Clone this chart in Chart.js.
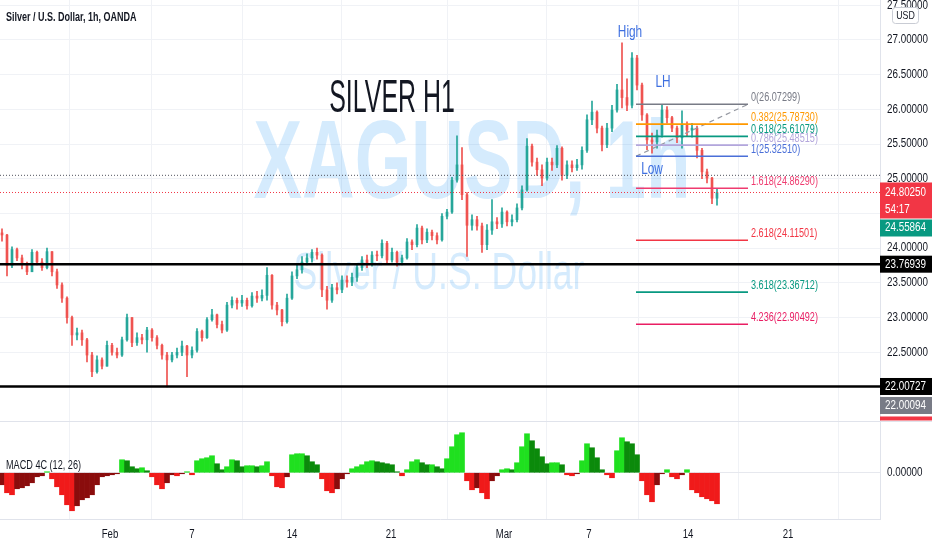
<!DOCTYPE html>
<html>
<head>
<meta charset="utf-8">
<script src="https://cdn.jsdelivr.net/npm/chart.js@4.4.1/dist/chart.umd.min.js"></script>
<style>
  html, body { margin: 0; padding: 0; background: #fff; }
  #wrap { position: relative; width: 932px; height: 550px; overflow: hidden; }
  canvas { position: absolute; left: 0; }
  #price { top: 0; }
  #macd { top: 421px; }
</style>
</head>
<body>
<div id="wrap">
  <canvas id="price" width="932" height="421"></canvas>
  <canvas id="macd" width="932" height="129"></canvas>
</div>
<script>
// XAGUSD 1h, one candle per ~5px of the screenshot
const firstOpen = 24.22;
const closes = [
  24.19, 23.75, 23.98, 23.86, 23.76, 23.66, 23.94, 23.80, 23.72, 23.95,
  23.66, 23.47, 23.28, 23.00, 22.75, 22.78, 22.68, 22.46, 22.22, 22.39,
  22.30, 22.60, 22.50, 22.46, 22.68, 23.00, 22.64, 22.71, 22.68, 22.82,
  22.71, 22.60, 22.46, 22.39, 22.46, 22.50, 22.59, 22.46, 22.53, 22.80,
  22.71, 22.97, 23.04, 22.90, 22.82, 23.18, 23.25, 23.21, 23.25, 23.17,
  23.31, 23.28, 23.32, 23.61, 23.18, 23.11, 22.94, 23.28, 23.60, 23.69,
  23.80, 23.86, 23.94, 23.90, 23.40, 23.25, 23.43, 23.40, 23.54, 23.51,
  23.58, 23.72, 23.83, 23.77, 23.90, 23.89, 24.07, 23.83, 23.94, 23.80,
  23.86, 24.09, 24.05, 24.29, 24.12, 24.23, 24.18, 24.12, 24.46, 24.52,
  24.98, 25.20, 24.77, 24.33, 24.41, 24.32, 24.05, 24.26, 24.38, 24.35,
  24.52, 24.38, 24.41, 24.58, 24.84, 25.47, 25.24, 25.13, 25.01, 25.24,
  25.20, 25.44, 25.05, 25.20, 25.16, 25.20, 25.41, 25.85, 25.96, 25.73,
  25.49, 25.73, 25.99, 26.28, 26.17, 26.06, 26.74, 26.35, 25.92, 25.56,
  25.53, 25.63, 25.99, 25.88, 25.73, 25.59, 25.77, 25.70, 25.73, 25.41,
  25.10, 25.01, 24.72, 24.80
];
const highs = [
  24.28, 24.20, 24.02, 24.00, 23.90, 23.80, 23.98, 23.96, 23.85, 24.00,
  23.95, 23.70, 23.50, 23.30, 23.02, 22.85, 22.82, 22.70, 22.50, 22.45,
  22.42, 22.66, 22.63, 22.56, 22.72, 23.05, 23.00, 22.78, 22.76, 22.86,
  22.84, 22.74, 22.62, 22.50, 22.50, 22.56, 22.66, 22.60, 22.58, 22.84,
  22.82, 23.00, 23.12, 23.05, 22.95, 23.22, 23.30, 23.28, 23.32, 23.28,
  23.36, 23.38, 23.40, 23.72, 23.62, 23.22, 23.12, 23.34, 23.66, 23.76,
  23.88, 23.92, 23.98, 24.00, 23.92, 23.45, 23.48, 23.50, 23.60, 23.60,
  23.64, 23.78, 23.88, 23.90, 23.95, 23.96, 24.12, 24.10, 24.00, 23.96,
  23.90, 24.14, 24.12, 24.34, 24.32, 24.28, 24.26, 24.22, 24.50, 24.56,
  25.02, 25.62, 25.45, 24.80, 24.48, 24.46, 24.36, 24.34, 24.70, 24.44,
  24.58, 24.54, 24.48, 24.64, 24.90, 25.58, 25.50, 25.30, 25.20, 25.30,
  25.30, 25.48, 25.46, 25.26, 25.26, 25.28, 25.46, 25.92, 26.12, 25.98,
  25.76, 25.80, 26.06, 26.36, 26.96, 26.44, 26.82, 26.78, 26.38, 25.94,
  25.66, 25.70, 26.06, 26.04, 25.90, 25.76, 25.98, 25.82, 25.80, 25.76,
  25.44, 25.14, 25.02, 24.86
];
const lows = [
  24.10, 23.60, 23.72, 23.82, 23.70, 23.62, 23.66, 23.76, 23.68, 23.70,
  23.60, 23.42, 23.22, 22.92, 22.60, 22.68, 22.60, 22.36, 22.15, 22.20,
  22.26, 22.30, 22.46, 22.42, 22.44, 22.66, 22.58, 22.60, 22.62, 22.50,
  22.66, 22.55, 22.40, 22.00, 22.36, 22.42, 22.45, 22.15, 22.42, 22.50,
  22.66, 22.70, 22.95, 22.85, 22.78, 22.80, 23.14, 23.12, 23.16, 23.12,
  23.15, 23.22, 23.24, 23.25, 23.12, 23.04, 22.88, 22.92, 23.26, 23.56,
  23.64, 23.76, 23.80, 23.84, 23.30, 23.12, 23.22, 23.34, 23.36, 23.44,
  23.46, 23.52, 23.68, 23.72, 23.74, 23.82, 23.86, 23.78, 23.80, 23.74,
  23.76, 23.84, 23.98, 24.02, 24.06, 24.08, 24.12, 24.06, 24.10, 24.42,
  24.50, 24.95, 24.70, 23.88, 24.26, 24.26, 23.94, 23.98, 24.20, 24.28,
  24.30, 24.32, 24.32, 24.38, 24.55, 24.82, 25.18, 25.05, 24.90, 24.98,
  25.12, 25.16, 24.98, 25.00, 25.10, 25.12, 25.14, 25.38, 25.78, 25.66,
  25.40, 25.45, 25.68, 25.96, 26.02, 25.98, 26.02, 26.28, 25.84, 25.42,
  25.37, 25.44, 25.60, 25.80, 25.68, 25.52, 25.44, 25.62, 25.60, 25.30,
  25.00, 24.94, 24.64, 24.62
];
// MACD 4C (12, 26) histogram
const macdHist = [
  -0.048, -0.080, -0.088, -0.064, -0.060, -0.052, -0.040, -0.016, -0.012, 0.004,
  -0.024, -0.056, -0.088, -0.128, -0.152, -0.132, -0.108, -0.100, -0.088, -0.048,
  -0.016, -0.012, -0.008, -0.004, 0.052, 0.048, 0.024, 0.016, 0.020, 0.008,
  -0.016, -0.048, -0.064, -0.040, -0.008, -0.012, -0.004, 0.004, -0.008, 0.048,
  0.056, 0.060, 0.068, 0.036, 0.012, 0.024, 0.052, 0.048, 0.024, 0.028,
  0.028, 0.024, 0.028, 0.044, -0.012, -0.056, -0.060, -0.016, 0.072, 0.076,
  0.076, 0.068, 0.044, 0.032, -0.024, -0.072, -0.080, -0.064, -0.024, -0.004,
  0.016, 0.024, 0.032, 0.044, 0.048, 0.044, 0.040, 0.036, 0.032, 0.004,
  -0.012, 0.012, 0.044, 0.052, 0.040, 0.032, 0.032, 0.024, 0.016, 0.056,
  0.104, 0.152, 0.160, -0.032, -0.068, -0.060, -0.080, -0.104, -0.032, -0.012,
  0.012, 0.016, 0.012, 0.040, 0.104, 0.156, 0.128, 0.096, 0.064, 0.036,
  0.040, 0.040, 0.032, -0.008, -0.012, -0.004, 0.048, 0.116, 0.100, 0.060,
  0.012, -0.008, -0.020, 0.088, 0.140, 0.124, 0.116, 0.072, -0.032, -0.088,
  -0.116, -0.048, -0.004, 0.012, -0.016, -0.024, -0.008, 0.012, -0.068, -0.080,
  -0.096, -0.104, -0.112, -0.124
];

// time axis (bar index) and price ticks
const dateTicks = [21.6, 38, 58, 77.8, 100.4, 117.4, 137.2, 157.2];
const dateLabels = ['Feb', '7', '14', '21', 'Mar', '7', '14', '21'];
const priceTicks = [22, 22.5, 23, 23.5, 24, 24.5, 25, 25.5, 26, 26.5, 27, 27.5];

// fib extension drawn on the chart
const fibLevels = ['0', '0.382', '0.618', '0.786', '1', '1.618', '2.618', '3.618', '4.236'];
const fibPrices = [26.07299, 25.78730, 25.61079, 25.48515, 25.32510, 24.86290, 24.11501, 23.36712, 22.90492];
const fibStart = 126.8, fibEnd = 149.2;

// horizontal levels and axis values
const levelPrices = [23.76939, 22.00727];
const lastPrice = 24.80250;
const prevClose = 25.05;
const otherValues = [24.55864, 22.00094];

const fibColors = ['#787b86', '#ff9800', '#089981', '#b3a6dc', '#4a6fd8', '#ef3b6f', '#f23645', '#089981', '#e91e63'];
const upColor = '#26a69a', downColor = '#ef5350';
const gridColor = '#f0f2f6';
const axisLine = '#e0e3eb';
const xMin = -0.4, xMax = 175.6;

const opens = closes.map((c, i) => (i === 0 ? firstOpen : closes[i - 1]));
const candleColors = closes.map((c, i) => (c >= opens[i] ? upColor : downColor));

function txt(ctx, s, x, y, size, color, opt) {
  opt = opt || {};
  ctx.save();
  ctx.font = (opt.weight || 'normal') + ' ' + size + 'px "Liberation Sans", Arial, sans-serif';
  ctx.fillStyle = color;
  ctx.textBaseline = opt.baseline || 'middle';
  ctx.textAlign = opt.align || 'left';
  ctx.translate(x, y);
  ctx.scale(opt.sx || 0.78, 1);
  ctx.fillText(s, 0, 0);
  ctx.restore();
}

function hline(price, color, width, dash) {
  return {
    type: 'line',
    data: [{ x: xMin, y: price }, { x: xMax, y: price }],
    borderColor: color,
    borderWidth: width,
    borderDash: dash || [],
    pointRadius: 0,
    fill: false
  };
}

const datasets = [];
fibPrices.forEach((p, k) => {
  datasets.push({
    type: 'line',
    data: [{ x: fibStart, y: p }, { x: fibEnd, y: p }],
    borderColor: fibColors[k],
    borderWidth: 1.6,
    pointRadius: 0
  });
});
datasets.push({
  type: 'line',
  data: [{ x: fibStart, y: fibPrices[4] }, { x: fibEnd, y: fibPrices[0] }],
  borderColor: '#9598a1',
  borderWidth: 1.2,
  borderDash: [5, 4],
  pointRadius: 0
});
levelPrices.forEach(p => datasets.push(hline(p, '#000000', 2.6)));
datasets.push(hline(lastPrice, '#f23645', 1, [1, 2]));
datasets.push(hline(prevClose, '#50535e', 1, [1, 2]));
datasets.push({
  type: 'bar',
  data: closes.map((c, i) => ({ x: i, y: [opens[i], c] })),
  backgroundColor: candleColors,
  barThickness: 2,
  minBarLength: 1,
  grouped: false
});
datasets.push({
  type: 'bar',
  data: closes.map((c, i) => ({ x: i, y: [lows[i], highs[i]] })),
  backgroundColor: candleColors,
  barThickness: 1,
  grouped: false
});

const notes = [
  { text: 'High', x: 125.6, y: 27.11 },
  { text: 'LH', x: 132.2, y: 26.39 },
  { text: 'Low', x: 130, y: 25.13 }
];

function box(ctx, x, y, w, h, fill) {
  ctx.fillStyle = fill;
  ctx.fillRect(x, y, w, h);
}

const priceOverlay = {
  id: 'priceOverlay',
  beforeDatasetsDraw(chart) {
    const ctx = chart.ctx;
    txt(ctx, 'XAGUSD, 1h', 472, 198, 112, 'rgba(33,150,243,0.19)', { weight: 'bold', align: 'center', baseline: 'alphabetic', sx: 0.65 });
    txt(ctx, 'Silver / U.S. Dollar', 439, 289, 52, 'rgba(33,150,243,0.19)', { align: 'center', baseline: 'alphabetic', sx: 0.685 });
  },
  afterDraw(chart) {
    const ctx = chart.ctx;
    const xs = chart.scales.x, ys = chart.scales.y;
    const right = chart.chartArea.right;

    txt(ctx, 'Silver / U.S. Dollar, 1h, OANDA', 6, 18, 12, '#131722', { weight: '600', sx: 0.75 });
    txt(ctx, 'SILVER H1', 392, 112, 47, '#131722', { align: 'center', baseline: 'alphabetic', sx: 0.53 });

    notes.forEach(n => {
      txt(ctx, n.text, xs.getPixelForValue(n.x), ys.getPixelForValue(n.y), 16, '#3d6fe0', { align: 'center', sx: 0.74 });
    });

    const fx = xs.getPixelForValue(fibEnd) + 3;
    fibPrices.forEach((p, k) => {
      txt(ctx, fibLevels[k] + '(' + p.toFixed(5) + ')', fx, ys.getPixelForValue(p) - 3, 12, fibColors[k], { baseline: 'alphabetic', sx: 0.76 });
    });

    // price scale labels
    ys.ticks.forEach(t => {
      txt(ctx, t.value.toFixed(5), right + 7, ys.getPixelForValue(t.value), 12, '#131722', { sx: 0.82 });
    });

    const yl = ys.getPixelForValue(lastPrice);
    box(ctx, right, yl - 10, 52, 36, '#f23645');
    txt(ctx, lastPrice.toFixed(5), right + 5, yl, 12, '#ffffff', { sx: 0.82 });
    txt(ctx, '54:17', right + 5, yl + 17, 12, '#ffffff', { sx: 0.82 });
    box(ctx, right, yl + 27, 52, 17, '#089981');
    txt(ctx, otherValues[0].toFixed(5), right + 5, yl + 35.5, 12, '#ffffff', { sx: 0.82 });

    levelPrices.forEach(p => {
      const y = ys.getPixelForValue(p);
      box(ctx, right, y - 8.5, 52, 17, '#000000');
      txt(ctx, p.toFixed(5), right + 5, y, 12, '#ffffff', { sx: 0.82 });
    });
    const y2 = ys.getPixelForValue(levelPrices[1]) + 19;
    box(ctx, right, y2 - 8.5, 52, 17, '#787b86');
    txt(ctx, otherValues[1].toFixed(5), right + 5, y2, 12, '#ffffff', { sx: 0.82 });
    box(ctx, right, y2 + 11, 52, 4, '#f23645');

    // currency badge
    ctx.save();
    ctx.fillStyle = '#ffffff';
    ctx.strokeStyle = '#c9ccd4';
    ctx.lineWidth = 1;
    ctx.beginPath();
    ctx.roundRect(892.5, 7.5, 26, 16, 3);
    ctx.fill();
    ctx.stroke();
    ctx.restore();
    txt(ctx, 'USD', 905.5, 15.5, 11, '#131722', { align: 'center', sx: 0.8 });
  }
};

new Chart(document.getElementById('price'), {
  type: 'bar',
  data: { datasets: datasets },
  options: {
    responsive: false,
    animation: false,
    devicePixelRatio: 1,
    layout: { padding: 0 },
    plugins: { legend: { display: false }, tooltip: { enabled: false } },
    scales: {
      x: {
        type: 'linear',
        min: xMin,
        max: xMax,
        offset: false,
        afterBuildTicks: s => { s.ticks = dateTicks.map(v => ({ value: v })); },
        afterFit: s => { s.height = 0; },
        ticks: { display: false },
        grid: { color: gridColor, drawTicks: false },
        border: { display: false }
      },
      y: {
        position: 'right',
        min: 21.51,
        max: 27.576,
        afterBuildTicks: s => { s.ticks = priceTicks.map(v => ({ value: v })); },
        afterFit: s => { s.width = 52; },
        ticks: { display: false },
        grid: { color: gridColor, drawTicks: false },
        border: { color: axisLine }
      }
    }
  },
  plugins: [priceOverlay]
});

const lime = '#1fe01f', green = '#0b8a0b', red = '#f01a1a', maroon = '#8a0c0c';

const macdOverlay = {
  id: 'macdOverlay',
  afterDraw(chart) {
    const ctx = chart.ctx;
    const xs = chart.scales.x, ys = chart.scales.y;
    ctx.save();
    ctx.strokeStyle = axisLine;
    ctx.lineWidth = 1;
    ctx.beginPath();
    ctx.moveTo(0, 0.5);
    ctx.lineTo(932, 0.5);
    ctx.stroke();
    ctx.restore();
    txt(ctx, 'MACD 4C (12, 26)', 6, 45, 12, '#131722', { sx: 0.76 });
    txt(ctx, '0.00000', chart.chartArea.right + 7, ys.getPixelForValue(0), 12, '#131722', { sx: 0.82 });
    dateTicks.forEach((v, k) => {
      txt(ctx, dateLabels[k], xs.getPixelForValue(v), 114, 12, '#131722', { align: 'center', sx: 0.8 });
    });
  }
};

new Chart(document.getElementById('macd'), {
  type: 'bar',
  data: {
    datasets: [{
      data: macdHist.map((v, i) => ({ x: i, y: v })),
      backgroundColor: c => {
        const i = c.dataIndex;
        const v = macdHist[i];
        const p = i > 0 ? macdHist[i - 1] : v;
        if (v >= 0) return v >= p ? lime : green;
        return v < p ? red : maroon;
      },
      barThickness: 5,
      grouped: false
    }]
  },
  options: {
    responsive: false,
    animation: false,
    devicePixelRatio: 1,
    layout: { padding: 0 },
    plugins: { legend: { display: false }, tooltip: { enabled: false } },
    scales: {
      x: {
        type: 'linear',
        min: xMin,
        max: xMax,
        offset: false,
        afterBuildTicks: s => { s.ticks = dateTicks.map(v => ({ value: v })); },
        afterFit: s => { s.height = 31; },
        ticks: { display: false },
        grid: { color: gridColor, drawTicks: false },
        border: { color: axisLine }
      },
      y: {
        position: 'right',
        min: -0.185,
        max: 0.207,
        afterBuildTicks: s => { s.ticks = [{ value: 0 }]; },
        afterFit: s => { s.width = 52; },
        ticks: { display: false },
        grid: { color: '#e6e8ee', drawTicks: false },
        border: { color: axisLine }
      }
    }
  },
  plugins: [macdOverlay]
});
</script>
</body>
</html>
